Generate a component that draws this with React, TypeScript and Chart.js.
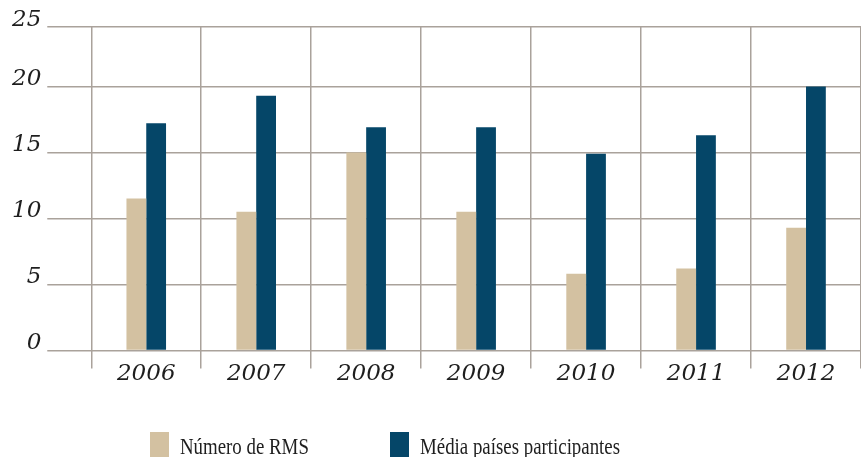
import React, { useEffect, useRef } from "react";
import { Chart, registerables } from "chart.js";

Chart.register(...registerables);

const categories = ["2006", "2007", "2008", "2009", "2010", "2011", "2012"];
const rmsValues = [11.5, 10.5, 15.0, 10.5, 5.8, 6.2, 9.3];
const mediaValues = [17.2, 19.3, 16.9, 16.9, 14.9, 16.3, 20.0];
const seriesLabels = ["Número de RMS", "Média países participantes"];
const yTickValues = [0, 5, 10, 15, 20, 24.5];
const yTickLabels = ["0", "5", "10", "15", "20", "25"];

const TAN = "#d3c1a1";
const BLUE = "#054668";
const GRID = "#aaa29b";
const TEXT = "#1e1e1e";

const legendPlugin = {
  id: "customLegend",
  afterDraw(chart: any) {
    const ctx = chart.ctx;
    const boxX = [150, 390];
    const boxY = 432;
    const boxW = 19;
    const boxH = 25;
    ctx.save();
    chart.data.datasets.forEach((ds: any, i: number) => {
      ctx.fillStyle = ds.backgroundColor;
      ctx.fillRect(boxX[i], boxY, boxW, boxH);
      ctx.save();
      ctx.translate(boxX[i] + 30, 454);
      ctx.scale(0.82, 1);
      ctx.fillStyle = TEXT;
      ctx.font = "23px 'Liberation Serif'";
      ctx.textBaseline = "alphabetic";
      ctx.textAlign = "left";
      ctx.fillText(ds.label, 0, 0);
      ctx.restore();
    });
    ctx.restore();
  },
};

export default function App() {
  const ref = useRef<HTMLCanvasElement | null>(null);
  useEffect(() => {
    if (!ref.current) return;
    const chart = new Chart(ref.current, {
      type: "bar",
      data: {
        labels: categories,
        datasets: [
          {
            label: seriesLabels[0],
            data: rmsValues,
            backgroundColor: TAN,
            categoryPercentage: 0.36,
            barPercentage: 1,
          },
          {
            label: seriesLabels[1],
            data: mediaValues,
            backgroundColor: BLUE,
            categoryPercentage: 0.36,
            barPercentage: 1,
          },
        ],
      },
      options: {
        animation: false,
        responsive: true,
        maintainAspectRatio: false,
        layout: { padding: { left: 6, top: 27, right: 0, bottom: 61 } },
        plugins: {
          legend: { display: false },
          tooltip: { enabled: false },
        },
        scales: {
          x: {
            offset: true,
            afterFit: (axis: any) => {
              axis.height += 16;
            },
            grid: {
              offset: true,
              color: GRID,
              lineWidth: 1.5,
              tickLength: 18,
              tickColor: GRID,
            },
            border: { display: false },
            ticks: {
              color: TEXT,
              padding: -8,
              font: { family: "'DejaVu Serif'", style: "italic", size: 23 },
            },
          },
          y: {
            min: 0,
            max: 24.5,
            afterBuildTicks: (axis: any) => {
              axis.ticks = yTickValues.map((v) => ({ value: v }));
            },
            grid: {
              color: GRID,
              lineWidth: 1.5,
              tickLength: 44,
              tickColor: GRID,
            },
            border: { display: false },
            ticks: {
              color: TEXT,
              padding: 6,
              labelOffset: -7,
              callback: (_v: any, i: number) => yTickLabels[i],
              font: { family: "'DejaVu Serif'", style: "italic", size: 23 },
            },
          },
        },
      },
      plugins: [legendPlugin],
    });
    return () => chart.destroy();
  }, []);
  return (
    <div style={{ position: "fixed", left: 0, top: 0, width: 861, height: 457 }}>
      <canvas ref={ref} />
    </div>
  );
}
